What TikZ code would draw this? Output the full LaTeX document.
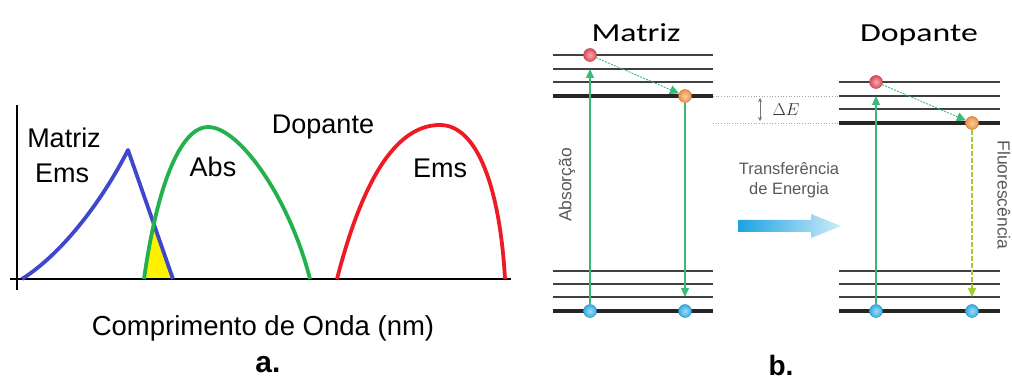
\documentclass[tikz,border=0pt]{standalone}
\usepackage{fontspec}
\setmainfont{Liberation Sans}
\newfontfamily\calib{Carlito}
\usetikzlibrary{arrows.meta}
\definecolor{cblue}{HTML}{3F48CC}
\definecolor{cgreen}{HTML}{22B14C}
\definecolor{cred}{HTML}{ED1C24}
\definecolor{cyel}{HTML}{FFF200}
\definecolor{arrgreen}{HTML}{3DB87A}
\definecolor{fluo}{HTML}{A3CC2E}
\definecolor{lvl}{HTML}{404040}
\definecolor{ballred}{HTML}{E04858}
\definecolor{ballorange}{HTML}{F09040}
\definecolor{ballblue}{HTML}{30AEE6}
\definecolor{arrblue}{HTML}{1CA3E2}
\definecolor{arrlight}{HTML}{CDEBF8}
\tikzset{
  curve/.style={line width=3.8pt, line join=round},
  axisline/.style={line width=2.4pt},
  biglabel/.style={font=\fontsize{27}{30}\selectfont, anchor=base, inner sep=0pt},
  lvlthin/.style={lvl, line width=1.8pt},
  lvlthick/.style={black!85, line width=3.2pt},
  ball/.style={circle, minimum size=13pt, inner sep=0pt, draw=#1!80!black, line width=0.4pt,
     inner color=white!55!#1, outer color=#1},
  trans/.style={arrgreen, line width=1.1pt, -{Triangle[length=9pt,width=8pt]}},
  hop/.style={arrgreen, line width=0.9pt, dash pattern=on 2pt off 1.2pt, -{Triangle[length=9pt,width=9pt]}},
  fluor/.style={fluo, line width=1.3pt, dash pattern=on 5pt off 2pt, -{Triangle[length=9pt,width=8pt]}},
  smalltxt/.style={font=\fontsize{17.5}{20}\selectfont, text=black!65, inner sep=0pt},
  title/.style={font=\calib\fontsize{26}{30}\selectfont, xscale=1.3, inner sep=0pt, anchor=base},
  dotline/.style={black!35, line width=0.7pt, dotted}
}
\begin{document}
\begin{tikzpicture}[x=1pt,y=-1pt]
\useasboundingbox (0,0) rectangle (1012,379);
% ---------- panel a ----------
\begin{scope}
  \clip (144,279) .. controls (158,180) and (182,127) .. (208,127)
        .. controls (240,127) and (290,200) .. (310,279) -- cycle;
  \fill[cyel] (22,279) .. controls (60,255) and (100,205) .. (128,150) -- (173,279) -- cycle;
\end{scope}
\draw[axisline] (17,105) -- (17,290);
\draw[axisline] (10,279) -- (511,279);
\draw[curve, cblue] (22,279) .. controls (60,255) and (100,205) .. (128,150) -- (173,279);
\draw[curve, cgreen] (144,279) .. controls (158,180) and (182,127) .. (208,127)
        .. controls (240,127) and (290,200) .. (310,279);
\draw[curve, cred] (337,279) .. controls (365,170) and (400,125) .. (440,125)
        .. controls (478,125) and (500,190) .. (505,279);
\node[biglabel] (lmat) at (64,148) {Matriz};
\node[biglabel] (lems1) at (62,183) {Ems};
\node[biglabel] (labs) at (213,177) {Abs};
\node[biglabel] (ldop) at (323,134) {Dopante};
\node[biglabel] (lems2) at (440,178) {Ems};
\node[biglabel, font=\fontsize{27.5}{30}\selectfont] (xlab) at (263,335) {Comprimento de Onda (nm)};
\node[biglabel, font=\bfseries\fontsize{30}{32}\selectfont] (la) at (268,372) {a.};
% ---------- panel b ----------
\node[title] (tmat) at (636,42) {Matriz};
\node[title] (tdop) at (919,42) {Dopante};
\foreach \y/\s in {55/lvlthin,69/lvlthin,82/lvlthin,96/lvlthick,271/lvlthin,284/lvlthin,297/lvlthin,311/lvlthick}
  \draw[\s] (553,\y) -- (713,\y);
\foreach \y/\s in {82/lvlthin,96/lvlthin,109/lvlthin,123/lvlthick,271/lvlthin,284/lvlthin,297/lvlthin,311/lvlthick}
  \draw[\s] (839,\y) -- (1000,\y);
% delta E
\draw[dotline] (713,96) -- (839,96);
\draw[dotline] (713,123) -- (839,123);
\coordinate (de1) at (760,98);
\coordinate (de2) at (760,121);
\draw[black!55, line width=0.6pt, {Stealth[length=4pt,width=4pt]}-{Stealth[length=4pt,width=4pt]}] (de1) -- (de2);
\node[font=\fontsize{19}{20}\selectfont, text=black!80, inner sep=0pt] (dE) at (786,110) {$\Delta E$};
% transitions
\coordinate (m2) at (590,69);
\coordinate (m7) at (685,297);
\coordinate (d2) at (876,96);
\coordinate (d7) at (972,297);
\node[ball=ballred] (mr) at (590,55) {};
\node[ball=ballorange] (mo) at (685,96) {};
\node[ball=ballblue] (mb1) at (590,311) {};
\node[ball=ballblue] (mb2) at (685,311) {};
\node[ball=ballred] (dr) at (876,82) {};
\node[ball=ballorange] (do) at (972,123) {};
\node[ball=ballblue] (db1) at (876,311) {};
\node[ball=ballblue] (db2) at (972,311) {};
\draw[trans] (mb1) -- (m2);
\draw[trans] (mo) -- (m7);
\draw[hop] (mr) -- (mo);
\draw[trans] (db1) -- (d2);
\draw[fluor] (do) -- (d7);
\draw[hop] (dr) -- (do);
% side labels
\node[smalltxt, rotate=90] (abs) at (567,185) {Absorção};
\node[smalltxt, rotate=-90] (flu) at (1004,195) {Fluorescência};
\node[smalltxt, align=center, font=\fontsize{16.5}{20}\selectfont] (tr) at (789,180) {Transferência\\de Energia};
% blue arrow
\shade[left color=arrblue, right color=arrlight]
  (738,220) -- (811,220) -- (811,214) -- (841,226) -- (811,238) -- (811,232) -- (738,232) -- cycle;
\node[biglabel, font=\bfseries\fontsize{28}{30}\selectfont] (lb) at (781,375) {b.};
\end{tikzpicture}
\end{document}
